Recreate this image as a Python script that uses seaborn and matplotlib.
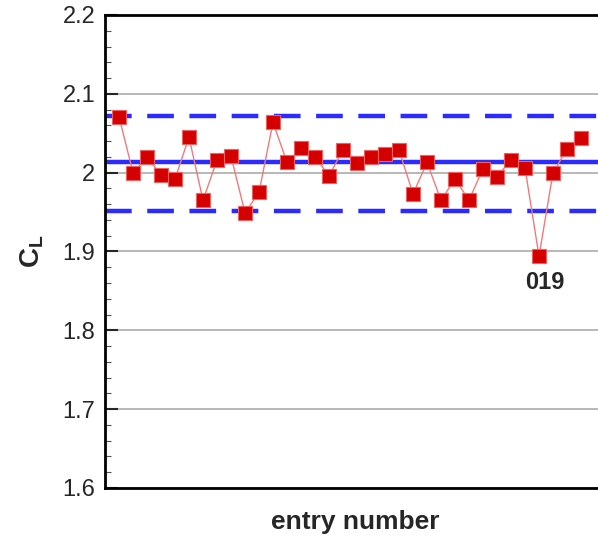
import numpy as np
import pandas as pd
import seaborn as sns
import matplotlib.pyplot as plt

# values
entry = list(range(1, 35))
cl = [2.071, 2.000, 2.020, 1.997, 1.992, 2.045, 1.965, 2.016, 2.021, 1.949,
      1.975, 2.064, 2.013, 2.031, 2.020, 1.996, 2.029, 2.012, 2.020, 2.024,
      2.029, 1.973, 2.013, 1.965, 1.992, 1.965, 2.005, 1.995, 2.016, 2.006,
      1.894, 2.000, 2.030, 2.044]
cl_mean = 2.013
cl_upper = 2.072
cl_lower = 1.951
flag_idx = 30
flag_text = "019"

df = pd.DataFrame({"entry": entry, "CL": cl})

sns.set_style("white")
plt.rcParams['font.family'] = ['Liberation Sans', 'DejaVu Sans']

fig = plt.figure(figsize=(5.98, 5.41), dpi=100)
# axes run past the right edge, as in the cropped original
ax = fig.add_axes([105/598, 53/541, 560/598, 473/541])

ax.axhline(cl_mean, color='#2b2bff', lw=3.2, zorder=2)
ax.axhline(cl_upper, color='#2b2bff', lw=3.2, ls=(0, (6, 3.5)), zorder=2)
ax.axhline(cl_lower, color='#2b2bff', lw=3.2, ls=(0, (6, 3.5)), zorder=2)

sns.lineplot(data=df, x="entry", y="CL", ax=ax, color='#f07a7a', lw=1,
             marker='s', markersize=10, markerfacecolor='#d40000',
             markeredgecolor='#f06060', markeredgewidth=0.8, zorder=3)

ax.set_ylim(1.6, 2.2)
ax.set_xlim(0, 40)
ax.set_yticks(np.arange(1.6, 2.21, 0.1))
ax.set_yticklabels(["1.6", "1.7", "1.8", "1.9", "2", "2.1", "2.2"])
ax.set_yticks(np.arange(1.6, 2.2, 0.02), minor=True)
ax.set_xticks([])
ax.yaxis.grid(True, color='#b8b8b8', lw=1.4)
ax.set_axisbelow(True)

ax.annotate(flag_text, (entry[flag_idx], cl[flag_idx]), xytext=(4, -19),
            textcoords='offset points', ha='center', va='center',
            fontsize=17, fontweight='bold')

for s in ['left', 'bottom', 'top']:
    ax.spines[s].set_color('black')
    ax.spines[s].set_linewidth(2)
ax.spines['right'].set_visible(False)

ax.tick_params(axis='y', which='major', direction='in', length=9, width=1.5,
               labelsize=17, pad=7, left=True)
ax.tick_params(axis='y', which='minor', direction='in', length=4, width=0.8,
               color='#555555', left=True)

ax.set_ylabel("C$_\\mathregular{L}$", fontsize=20, fontweight='bold', labelpad=12)
ax.set_xlabel("")
fig.text(355/598, 1 - 522/541, "entry number", ha='center', va='center',
         fontsize=19, fontweight='bold')

fig.savefig("out.png", dpi=100)
